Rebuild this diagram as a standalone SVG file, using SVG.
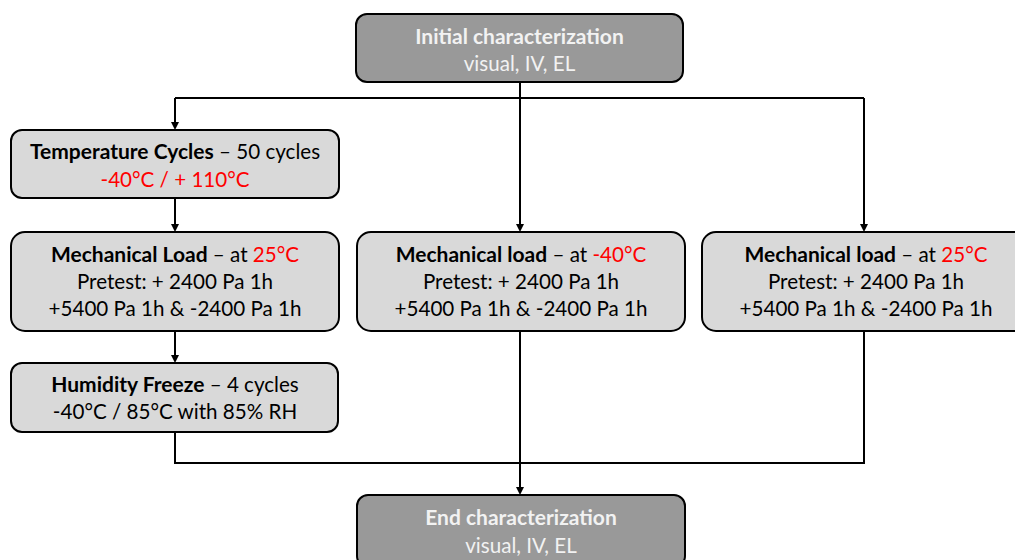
<svg xmlns="http://www.w3.org/2000/svg" width="1015" height="560" viewBox="0 0 1015 560">
<style>
.dark{fill:#999999;stroke:#000;stroke-width:2}
.light{fill:#d9d9d9;stroke:#000;stroke-width:2}
text{font-family:"Lato","Liberation Sans",sans-serif;font-size:20.6px;text-anchor:middle}
.w{fill:#f2f2f2}
.k{fill:#000}
.b{font-weight:bold;font-size:21px}
.r{fill:#ff0000}
.ln{fill:none;stroke:#000;stroke-width:2}
.ah{fill:#000}
</style>
<g id="connectors">
<path class="ln" d="M520,82 V98"/>
<path class="ln" d="M175,98 H864"/>
<path class="ln" d="M175,98 V124"/>
<path class="ln" d="M520,98 V226"/>
<path class="ln" d="M864,98 V226"/>
<path class="ln" d="M175,198 V226"/>
<path class="ln" d="M175,331 V357"/>
<path class="ln" d="M175,432 V463 H864 V331"/>
<path class="ln" d="M520,331 V489"/>
<path class="ah" d="M171,122 L179,122 L175,130 Z"/>
<path class="ah" d="M516,224 L524,224 L520,232 Z"/>
<path class="ah" d="M860,224 L868,224 L864,232 Z"/>
<path class="ah" d="M171,224 L179,224 L175,232 Z"/>
<path class="ah" d="M171,355 L179,355 L175,363 Z"/>
<path class="ah" d="M516,487 L524,487 L520,495 Z"/>
</g>
<g id="initial">
<rect class="dark" x="356" y="14" width="327" height="68" rx="11"/>
<text class="w b" x="519.5" y="44">Initial characterization</text>
<text class="w" x="519.5" y="71">visual, IV, EL</text>
</g>
<g id="temperature">
<rect class="light" x="11" y="130" width="328" height="68" rx="11"/>
<text class="k" x="175" y="159"><tspan class="b">Temperature Cycles</tspan> – 50 cycles</text>
<text class="r" x="175" y="187">-40°C / + 110°C</text>
</g>
<g id="mech1">
<rect class="light" x="11" y="232" width="328" height="99" rx="14"/>
<text class="k" x="175" y="262"><tspan class="b">Mechanical Load</tspan> – at <tspan class="r">25°C</tspan></text>
<text class="k" x="175" y="289">Pretest: + 2400 Pa 1h</text>
<text class="k" x="175" y="316">+5400 Pa 1h &amp; -2400 Pa 1h</text>
</g>
<g id="mech2">
<rect class="light" x="357" y="232" width="328" height="99" rx="14"/>
<text class="k" x="521" y="262"><tspan class="b">Mechanical load</tspan> – at <tspan class="r">-40°C</tspan></text>
<text class="k" x="521" y="289">Pretest: + 2400 Pa 1h</text>
<text class="k" x="521" y="316">+5400 Pa 1h &amp; -2400 Pa 1h</text>
</g>
<g id="mech3">
<rect class="light" x="702" y="232" width="328" height="99" rx="14"/>
<text class="k" x="866" y="262"><tspan class="b">Mechanical load</tspan> – at <tspan class="r">25°C</tspan></text>
<text class="k" x="866" y="289">Pretest: + 2400 Pa 1h</text>
<text class="k" x="866" y="316">+5400 Pa 1h &amp; -2400 Pa 1h</text>
</g>
<g id="humidity">
<rect class="light" x="11" y="363" width="327" height="69" rx="11"/>
<text class="k" x="175" y="392"><tspan class="b">Humidity Freeze</tspan> – 4 cycles</text>
<text class="k" x="175" y="419">-40°C / 85°C with 85% RH</text>
</g>
<g id="end">
<rect class="dark" x="357" y="495" width="328" height="72" rx="11"/>
<text class="w b" x="521" y="525">End characterization</text>
<text class="w" x="521" y="553">visual, IV, EL</text>
</g>
</svg>
